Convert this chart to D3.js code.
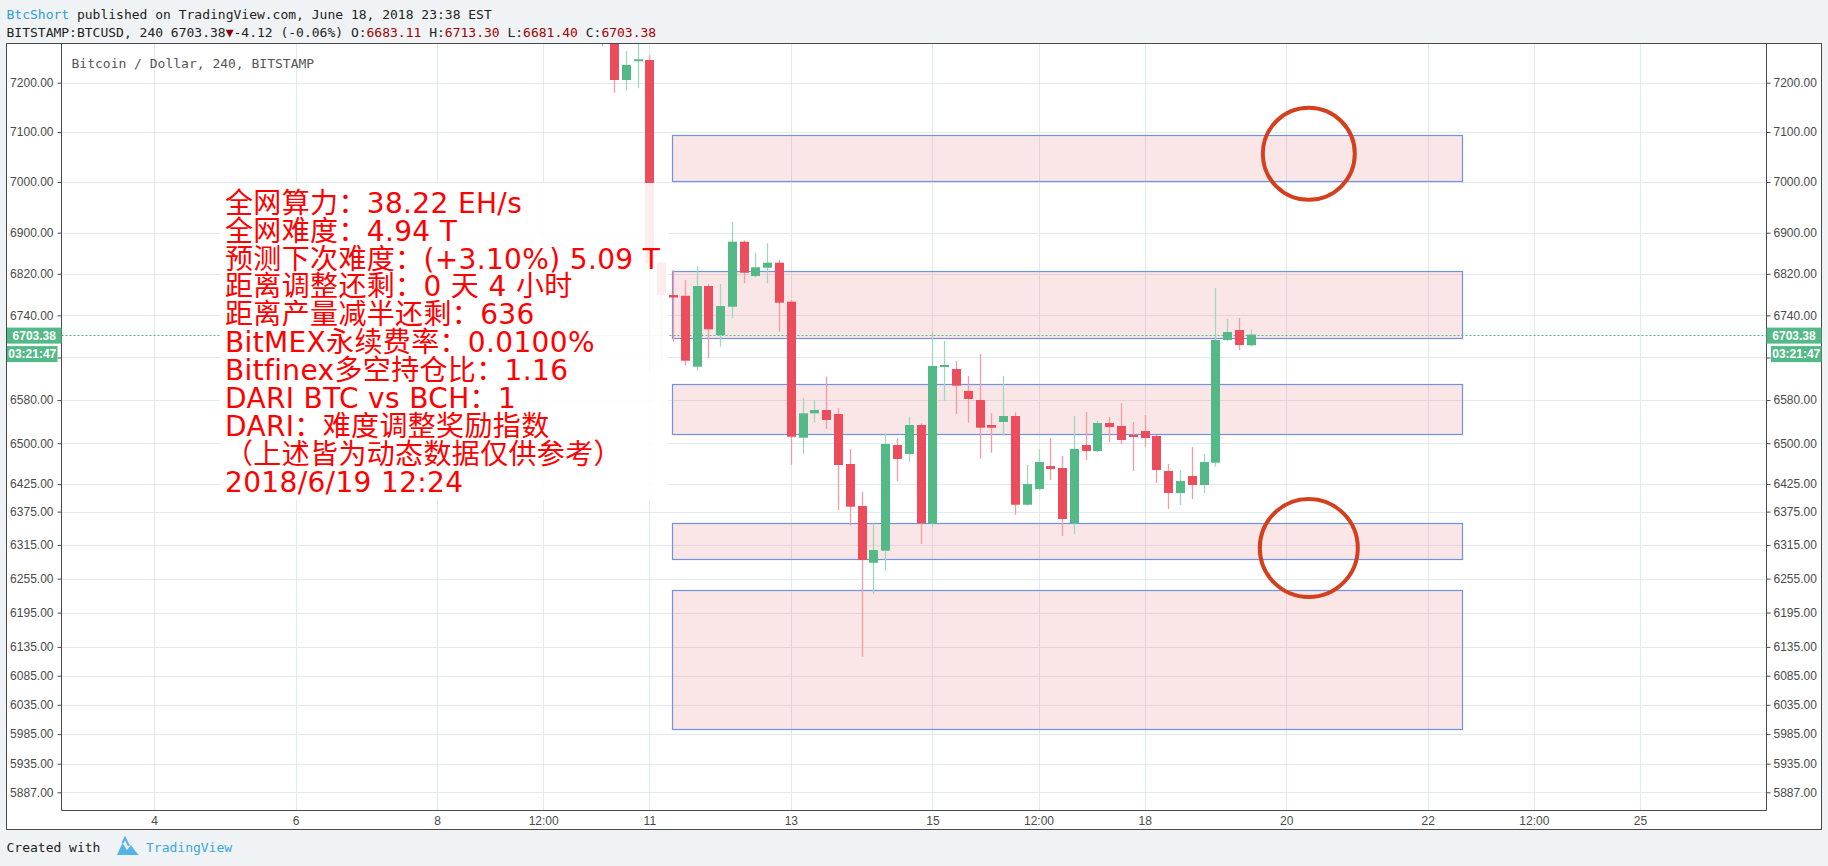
<!DOCTYPE html>
<html><head><meta charset="utf-8">
<script src="https://cdn.jsdelivr.net/npm/d3@7"></script>
<style>
html,body{margin:0;padding:0;background:#f0f3f6;overflow:hidden;}
svg{display:block;}
text{white-space:pre;}
</style></head><body>
<svg id="chart" width="1828" height="866"></svg>
<script>
// ---------- DATA ----------
const times = [
"2018-06-10 08:00","2018-06-10 12:00","2018-06-10 16:00","2018-06-10 20:00",
"2018-06-11 00:00","2018-06-11 04:00","2018-06-11 08:00","2018-06-11 12:00","2018-06-11 16:00","2018-06-11 20:00",
"2018-06-12 00:00","2018-06-12 04:00","2018-06-12 08:00","2018-06-12 12:00","2018-06-12 16:00","2018-06-12 20:00",
"2018-06-13 00:00","2018-06-13 04:00","2018-06-13 08:00","2018-06-13 12:00","2018-06-13 16:00","2018-06-13 20:00",
"2018-06-14 00:00","2018-06-14 04:00","2018-06-14 08:00","2018-06-14 12:00","2018-06-14 16:00","2018-06-14 20:00",
"2018-06-15 00:00","2018-06-15 04:00","2018-06-15 08:00","2018-06-15 12:00","2018-06-15 16:00","2018-06-15 20:00",
"2018-06-16 00:00","2018-06-16 04:00","2018-06-16 08:00","2018-06-16 12:00","2018-06-16 16:00","2018-06-16 20:00",
"2018-06-17 00:00","2018-06-17 04:00","2018-06-17 08:00","2018-06-17 12:00","2018-06-17 16:00","2018-06-17 20:00",
"2018-06-18 00:00","2018-06-18 04:00","2018-06-18 08:00","2018-06-18 12:00","2018-06-18 16:00","2018-06-18 20:00",
"2018-06-19 00:00","2018-06-19 04:00","2018-06-19 08:00","2018-06-19 12:00"];
const opens = [7330,7300,7205.5,7244.0, 7246.5,6842.0,6779.0,6777.7,6642.6,6796.4,
6702.6,6756.6,6882.4,6815.7,6831.8,6841.5, 6766.2,6510.1,6555.3,6561.5,6554.0,6461.7,
6385.1,6283.2,6304.7,6496.6,6480.1,6533.6, 6353.9,6642.0,6638.2,6597.0,6580.1,6533.6,
6539.2,6550.3,6387.5,6416.0,6458.0,6454.4, 6353.9,6496.6,6485.6,6537.3,6531.8,6515.1,
6522.5,6513.3,6448.9,6408.7,6439.7,6423.3, 6464.1,6693.1,6712.1,6683.11];
const highs = [7345,7310,7265.0,7279.5, 7256.8,6845.0,6827.3,6808.0,6835.1,6800.0,
6800.3,6921.6,6885.0,6860.9,6879.3,6846.8, 6769.0,6583.3,6580.1,6623.8,6564.6,6489.3,
6411.1,6353.9,6518.2,6509.0,6549.0,6537.0, 6707.7,6691.2,6653.3,6625.1,6666.6,6555.3,
6625.1,6557.2,6459.9,6489.3,6509.5,6476.4, 6550.3,6557.8,6541.0,6548.5,6574.5,6539.2,
6552.2,6515.1,6461.7,6450.7,6493.0,6480.1, 6792.6,6733.1,6735.0,6713.30];
const lows = [7275,7179.6,7183.7,7188.6, 6630.7,6651.4,6689.9,6644.5,6635.1,6658.4,
6680.4,6734.4,6801.6,6813.2,6801.6,6708.9, 6459.9,6480.1,6537.9,6526.2,6377.9,6349.6,
6117.9,6227.7,6269.0,6430.6,6465.9,6316.7, 6347.8,6578.8,6554.0,6537.9,6471.4,6482.5,
6513.8,6369.4,6385.7,6412.9,6432.4,6331.0, 6334.6,6469.0,6483.7,6502.2,6498.5,6448.9,
6493.0,6426.9,6379.7,6387.0,6397.8,6408.7, 6456.8,6691.2,6674.1,6681.40];
const closes = [7300,7205.5,7236.3,7248.0, 6840.3,6779.1,6774.3,6653.9,6796.4,6713.4,
6757.9,6882.4,6822.1,6832.6,6841.5,6764.3, 6511.9,6555.3,6561.5,6542.9,6459.9,6383.9,
6288.1,6305.9,6498.5,6470.9,6533.6,6353.9, 6643.9,6645.8,6606.9,6582.0,6528.6,6528.6,
6550.3,6387.5,6425.1,6465.4,6452.5,6361.6, 6489.3,6485.6,6537.3,6529.9,6505.9,6511.4,
6509.5,6450.7,6408.7,6430.6,6423.3,6465.4, 6693.1,6708.3,6683.6,6703.38];

const yTicks = [7200,7100,7000,6900,6820,6740,6660,6580,6500,6425,6375,6315,6255,6195,6135,6085,6035,5985,5935,5887];
const xTickDates = ["2018-06-04 00:00","2018-06-06 00:00","2018-06-08 00:00","2018-06-09 12:00","2018-06-11 00:00","2018-06-13 00:00","2018-06-15 00:00","2018-06-16 12:00","2018-06-18 00:00","2018-06-20 00:00","2018-06-22 00:00","2018-06-23 12:00","2018-06-25 00:00"];
const xTickLabels = ["4","6","8","12:00","11","13","15","12:00","18","20","22","12:00","25"];

const zoneTops = [7093.3,6825.5,6609.5,6353.9,6234.8];
const zoneBottoms = [7001.9,6696.4,6516.4,6289.3,5994.4];
const zoneStart = "2018-06-11 07:47";
const zoneEnd = "2018-06-22 11:45";

const circleTimes = ["2018-06-20 07:40","2018-06-20 07:40"];
const circlePrices = [7056.2,6309.5];

const infoLines = ["全网算力：38.22 EH/s","全网难度：4.94 T","预测下次难度：(+3.10%) 5.09 T","距离调整还剩：0 天 4 小时","距离产量减半还剩：636","BitMEX永续费率：0.0100%","Bitfinex多空持仓比：1.16","DARI BTC vs BCH：1","DARI：难度调整奖励指数","（上述皆为动态数据仅供参考）","2018/6/19 12:24"];

const headerUser = "BtcShort";
const headerRest = " published on TradingView.com, June 18, 2018 23:38 EST";
const symbolText = "BITSTAMP:BTCUSD, 240";
const changeText = "-4.12 (-0.06%)";
const chartTitle = "Bitcoin / Dollar, 240, BITSTAMP";
const countdown = "03:21:47";

// ---------- SETUP ----------
const parse = d3.utcParse("%Y-%m-%d %H:%M");
const svg = d3.select("#chart");
const L = 61.5, R = 1766.5, T = 43.5, B = 810.5;
const fmt = d3.format(".2f");
const UP = "#53b987", DOWN = "#eb4d5c", UPW = "#9fd9bc", DOWNW = "#f39ca5";
const GRID = "#e1eaf0", AX = "#4a4a4a";
const MONO = "'DejaVu Sans Mono', monospace";
const SANS = "'Liberation Sans', Arial, sans-serif";

const x = d3.scaleUtc().domain([parse(xTickDates[0]), parse(xTickDates[xTickDates.length-1])]).range([154, 1640]);
const y = d3.scaleLog().domain([7200, 5887]).range([82.7, 792.3]);

const candles = times.map((t,i)=>({t:parse(t),o:opens[i],h:highs[i],l:lows[i],c:closes[i]}));

// background frame
svg.append("rect").attr("x",6.5).attr("y",T).attr("width",1815).attr("height",786).attr("fill","#fff").attr("stroke",AX).attr("stroke-width",1);

svg.append("defs").append("clipPath").attr("id","plot").append("rect")
  .attr("x",L+0.5).attr("y",T+0.5).attr("width",R-L-1).attr("height",B-T-1);
const plot = svg.append("g").attr("clip-path","url(#plot)");

// grid
plot.selectAll(".vg").data(xTickDates).join("line")
  .attr("x1",d=>Math.round(x(parse(d)))+0.5).attr("x2",d=>Math.round(x(parse(d)))+0.5)
  .attr("y1",T).attr("y2",B).attr("stroke",GRID).attr("stroke-width",1);
plot.selectAll(".hg").data(yTicks).join("line")
  .attr("x1",L).attr("x2",R)
  .attr("y1",d=>Math.round(y(d))+0.5).attr("y2",d=>Math.round(y(d))+0.5)
  .attr("stroke",GRID).attr("stroke-width",1);

// zones
const zx0 = x(parse(zoneStart)), zx1 = x(parse(zoneEnd));
plot.selectAll(".zone").data(zoneTops).join("rect")
  .attr("x",Math.round(zx0)+0.5).attr("width",Math.round(zx1-zx0))
  .attr("y",d=>Math.round(y(d))+0.5)
  .attr("height",(d,i)=>Math.round(y(zoneBottoms[i]))-Math.round(y(d)))
  .attr("fill","rgba(224,100,110,0.17)").attr("stroke","#6f93e0").attr("stroke-width",1.2);

// current price line
const lastC = closes[closes.length-1];
const yc = Math.round(y(lastC))+0.5;
plot.append("line").attr("x1",L).attr("x2",R).attr("y1",yc).attr("y2",yc)
  .attr("stroke",UP).attr("stroke-width",1).attr("stroke-dasharray","2,2");

// candles
const bw = 9;
const cg = plot.append("g");
cg.selectAll(".wick").data(candles).join("line")
  .attr("x1",d=>Math.round(x(d.t))+0.5).attr("x2",d=>Math.round(x(d.t))+0.5)
  .attr("y1",d=>y(d.h)).attr("y2",d=>y(d.l))
  .attr("stroke",d=>d.c>=d.o?UPW:DOWNW).attr("stroke-width",1.3);
cg.selectAll(".body").data(candles).join("rect")
  .attr("x",d=>Math.round(x(d.t))+0.5-bw/2).attr("width",bw)
  .attr("y",d=>y(Math.max(d.o,d.c)))
  .attr("height",d=>Math.max(1.6, y(Math.min(d.o,d.c))-y(Math.max(d.o,d.c))))
  .attr("fill",d=>d.c>=d.o?UP:DOWN);

// info text box
svg.append("rect").attr("x",220).attr("y",183).attr("width",448).attr("height",317)
  .attr("fill","#fff").attr("fill-opacity",0.9);
const info = svg.append("text").attr("font-family","'DejaVu Sans','Noto Sans CJK SC',sans-serif")
  .attr("font-size",28).attr("letter-spacing",0.35).attr("fill","#ff0000");
info.selectAll("tspan").data(infoLines).join("tspan")
  .attr("x",225).attr("y",(d,i)=>212.7+i*27.9).text(d=>d);

// circles
svg.selectAll(".circ").data(circlePrices).join("circle")
  .attr("cx",(d,i)=>x(parse(circleTimes[i]))).attr("cy",d=>y(d))
  .attr("r",(d,i)=>i===0?46:49)
  .attr("fill","none").attr("stroke","#d2401e").attr("stroke-width",4);

// axis frame lines
svg.append("line").attr("x1",L).attr("x2",L).attr("y1",T).attr("y2",B).attr("stroke",AX);
svg.append("line").attr("x1",R).attr("x2",R).attr("y1",T).attr("y2",B).attr("stroke",AX);
svg.append("line").attr("x1",L).attr("x2",R).attr("y1",B).attr("y2",B).attr("stroke",AX);

function styleAxis(g){
  g.select(".domain").remove();
  g.selectAll(".tick line").attr("stroke",AX);
  g.selectAll(".tick text").attr("fill","#4a4a4a").attr("font-family",SANS).attr("font-size",12);
}
svg.append("g").attr("transform",`translate(${R},0)`)
  .call(d3.axisRight(y).tickValues(yTicks).tickFormat(fmt).tickSize(4).tickPadding(3)).call(styleAxis);
svg.append("g").attr("transform",`translate(${L},0)`)
  .call(d3.axisLeft(y).tickValues(yTicks).tickFormat(fmt).tickSize(4).tickPadding(4)).call(styleAxis);
svg.append("g").attr("transform",`translate(0,${B})`)
  .call(d3.axisBottom(x).tickValues(xTickDates.map(parse)).tickFormat((d,i)=>xTickLabels[i]).tickSize(0).tickPadding(6))
  .call(styleAxis);

// price & countdown labels
function tag(x0,w,yy,txt){
  svg.append("rect").attr("x",x0).attr("y",yy).attr("width",w).attr("height",16).attr("fill",UP);
  svg.append("text").attr("x",x0+w/2).attr("y",yy+12.2).attr("text-anchor","middle")
    .attr("font-family",SANS).attr("font-size",12).attr("font-weight","bold").attr("fill","#fff").text(txt);
}
const yl = y(lastC);
tag(R,55,yl-7,fmt(lastC));
tag(R+4.5,50.5,yl+11.5,countdown);
tag(7,L-7,yl-7,fmt(lastC));
tag(7,50.5,yl+11.5,countdown);

// chart title in plot
svg.append("text").attr("x",71.5).attr("y",67.5).attr("font-family",MONO).attr("font-size",13)
  .attr("fill","#555").text(chartTitle);

// header
const last = candles[candles.length-1];
const h1 = svg.append("text").attr("x",6.5).attr("y",19).attr("font-family",MONO).attr("font-size",13);
h1.append("tspan").attr("fill","#2c9fd9").text(headerUser);
h1.append("tspan").attr("fill","#222").text(headerRest);
const h2 = svg.append("text").attr("x",6.5).attr("y",37).attr("font-family",MONO).attr("font-size",13).attr("fill","#222");
h2.append("tspan").text(symbolText+" "+fmt(last.c));
h2.append("tspan").attr("fill","#8b0000").text("▼");
h2.append("tspan").text(changeText+" O:");
h2.append("tspan").attr("fill","#a30000").text(fmt(last.o));
h2.append("tspan").text(" H:");
h2.append("tspan").attr("fill","#a30000").text(fmt(last.h));
h2.append("tspan").text(" L:");
h2.append("tspan").attr("fill","#a30000").text(fmt(last.l));
h2.append("tspan").text(" C:");
h2.append("tspan").attr("fill","#a30000").text(fmt(last.c));

// footer
svg.append("text").attr("x",6.5).attr("y",852).attr("font-family",MONO).attr("font-size",13).attr("fill","#222").text("Created with");
svg.append("path").attr("d","M117,855 L122.5,843 L127,850 L131,845 L136,852 L139,855 Z").attr("fill","#56b3e6");
svg.append("path").attr("d","M122.5,843 L125,838 L129,846").attr("fill","none").attr("stroke","#56b3e6").attr("stroke-width",2);
svg.append("text").attr("x",146).attr("y",852).attr("font-family",MONO).attr("font-size",13).attr("fill","#3aa6de").text("TradingView");
</script>
</body></html>
